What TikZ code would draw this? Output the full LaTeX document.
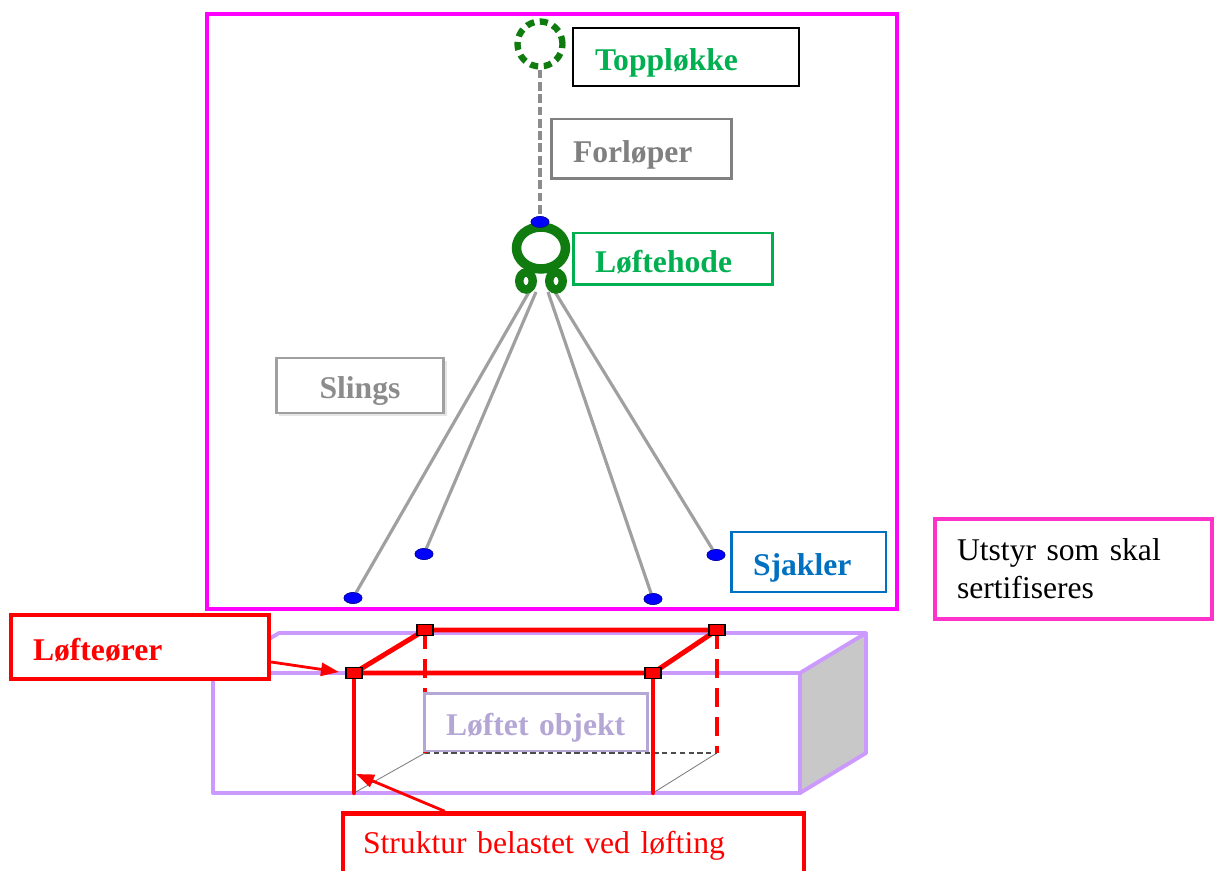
\documentclass[tikz,border=0pt]{standalone}
\usepackage{fontspec}
\setmainfont{Liberation Serif}
\usepackage{tikz}
\usetikzlibrary{arrows.meta, calc, shapes.geometric, shadows}
\definecolor{framemag}{HTML}{FF00FF}
\definecolor{notepink}{HTML}{FF33CC}
\definecolor{loopgreen}{HTML}{107C10}
\definecolor{textgreen}{HTML}{00B050}
\definecolor{leadgray}{HTML}{8C8C8C}
\definecolor{slinggray}{HTML}{A0A0A0}
\definecolor{shackleblue}{HTML}{0070C0}
\definecolor{objpurple}{HTML}{CC99FF}
\definecolor{objlabel}{HTML}{B4A7D6}
\definecolor{sidegray}{HTML}{C8C8C8}

\tikzset{
  lblbox/.style={draw, fill=white, line width=1.7pt, inner xsep=0.44cm, inner ysep=0pt,
    align=left, font=\fontsize{18}{21.5}\selectfont\bfseries},
  lbl/.style={lblbox, text height=15pt, text depth=0pt},
  shackle/.style={ellipse, fill=blue, draw=blue!60!black, line width=0.3pt,
    minimum width=0.36cm, minimum height=0.22cm, inner sep=0pt},
  hookloop/.style={ellipse, draw=loopgreen, line width=4.8pt, minimum width=0.27cm,
    minimum height=0.34cm, inner sep=0pt},
  eye/.style={fill=red, draw=black, line width=0.6pt,
    minimum width=0.32cm, minimum height=0.22cm, inner sep=0pt},
  objline/.style={objpurple, line width=2.2pt, line join=round},
  redbar/.style={red, line width=2.8pt, line cap=round}
}

\begin{document}
\begin{tikzpicture}[x=0.02cm, y=-0.02cm]
  \useasboundingbox (0,0) rectangle (1214,871);

  % Equipment frame
  \draw[framemag, line width=2.4pt] (207,14) rectangle (897,609);

  % Top loop and pennant
  \node[circle, draw=loopgreen, line width=3.6pt, dash pattern=on 4.6pt off 3.2pt,
    minimum size=0.9cm, inner sep=0pt] (toploop) at (540,44) {};
  \node[shackle] (topdot) at (540,222) {};
  \draw[leadgray, line width=2.7pt, dash pattern=on 5pt off 2pt] (toploop) -- (topdot);

  % Slings
  \coordinate (sl1) at (529,292);
  \coordinate (sl2) at (536,292);
  \coordinate (sl3) at (548,292);
  \coordinate (sl4) at (555,292);
  \node[shackle] (shk1) at (353,598) {};
  \node[shackle] (shk2) at (424,554) {};
  \node[shackle] (shk3) at (653,599) {};
  \node[shackle] (shk4) at (716,555) {};
  \foreach \i in {1,...,4} {
    \draw[slinggray, line width=1.8pt] (sl\i) -- (shk\i.center);
    \node[shackle] at (shk\i) {};
  }

  % Lifting head
  \node[ellipse, draw=loopgreen, line width=5.4pt, minimum width=0.98cm,
    minimum height=0.84cm, inner sep=0pt] (head) at (541,248) {};
  \node[hookloop] (hook1) at (526,281) {};
  \node[hookloop] (hook2) at (556,281) {};
  \node[shackle] at (topdot) {};

  % Lifted object
  \draw[objline, fill=sidegray] (800,673) -- (866,633) -- (866,753) -- (800,793) -- cycle;
  \draw[objline] (213,673) rectangle (800,793);
  \draw[objline] (213,673) -- (279,633) -- (866,633);

  % Load-bearing structure
  \coordinate (A) at (354,673);
  \coordinate (B) at (653,673);
  \coordinate (C) at (425,630);
  \coordinate (D) at (717,630);
  \coordinate (E) at (354,793);
  \coordinate (F) at (653,793);
  \coordinate (G) at (425,753);
  \coordinate (H) at (717,753);
  \draw[gray, line width=0.5pt] (E) -- (G) (F) -- (H);
  \draw[gray!60!black, line width=0.6pt, dash pattern=on 3pt off 2pt] (G) -- (H);
  \draw[red, line width=2.8pt, dash pattern=on 11pt off 5.5pt] (C) -- (G) (D) -- (H);
  \draw[redbar] (A) -- (B) (A) -- (C) (C) -- (D) (B) -- (D);
  \draw[redbar, line width=2.4pt] (A) -- (E) (B) -- (F);
  \foreach \p in {A,B,C,D}
    \node[eye] (eye\p) at (\p) {};

  % Labels
  \node[lbl, draw=black, line width=1.2pt, text=textgreen, text width=3.64cm,
    minimum height=1.16cm] (toplbl) at (686,57) {Toppløkke};
  \node[lbl, draw=gray, text=gray, text width=2.74cm,
    minimum height=1.2cm] (leadlbl) at (641.5,149) {Forløper};
  \node[lbl, draw=textgreen, text=textgreen, text width=3.12cm,
    minimum height=1.04cm] (headlbl) at (673,259) {Løftehode};
  \node[lbl, draw=slinggray, text=leadgray, text width=2.48cm, align=center,
    minimum height=1.1cm, drop shadow={shadow xshift=1.5pt, shadow yshift=-1.5pt, fill=gray!40}]
    (slinglbl) at (360,385.5) {Slings};
  \node[lbl, draw=shackleblue, text=shackleblue, text width=2.22cm,
    minimum height=1.2cm] (shklbl) at (808.5,562) {Sjakler};
  \node[lblbox, draw=notepink, line width=2.3pt, font=\fontsize{18}{21.5}\selectfont,
    text width=4.66cm, minimum height=2cm] (certlbl) at (1073.5,569)
    {Utstyr som skal\\sertifiseres};
  \node[lbl, draw=red, line width=2.5pt, text=red, text width=4.28cm,
    minimum height=1.28cm] (eyelbl) at (140,647) {Løfteører};
  \node[lbl, draw=objlabel, text=objlabel, text width=3.6cm,
    minimum height=1.16cm] (objlbl) at (536,722) {Løftet objekt};
  \node[lblbox, draw=red, line width=2.5pt, text=red, font=\fontsize{18}{21.5}\selectfont,
    inner xsep=0.4cm, text width=8.42cm, minimum height=1.3cm] (strlbl) at (573.5,846)
    {Struktur belastet ved løfting};

  % Pointers
  \coordinate (eyetip) at (339,672);
  \coordinate (strtip) at (356,774);
  \draw[red, line width=1.6pt, -{Triangle[length=0.36cm, width=0.26cm]}]
    ($(eyelbl.east)+(0,15)$) -- (eyetip);
  \draw[red, line width=1.6pt, -{Triangle[length=0.36cm, width=0.26cm]}]
    ($(strlbl.north west)+(104,0)$) -- (strtip);
\end{tikzpicture}
\end{document}
